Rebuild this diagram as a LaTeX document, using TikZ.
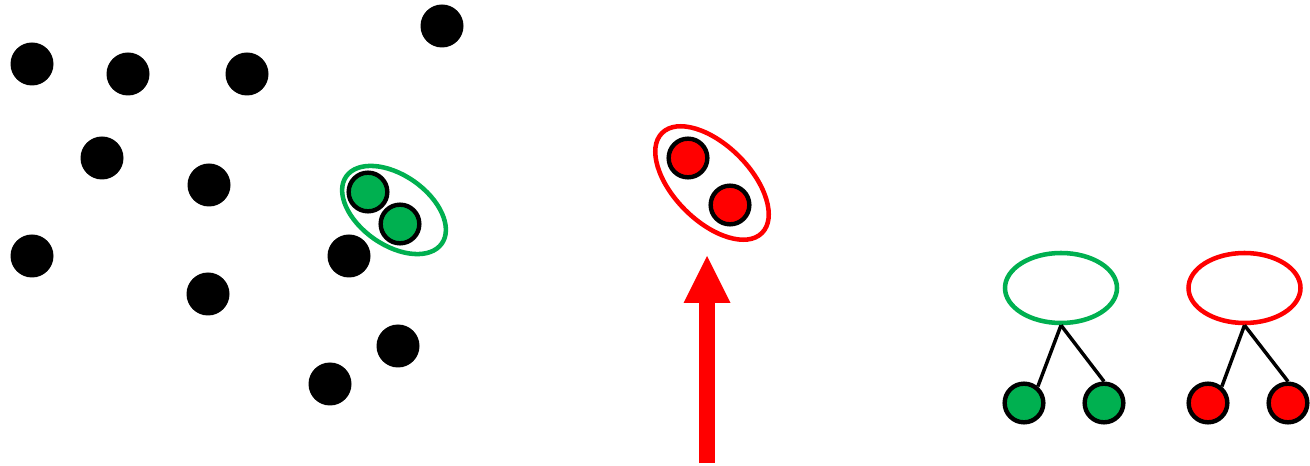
\documentclass[tikz,border=0pt]{standalone}
\usetikzlibrary{shapes.geometric,arrows.meta}
\definecolor{grn}{HTML}{00B050}
\definecolor{rd}{HTML}{FF0000}
\begin{document}
\begin{tikzpicture}[x=0.75pt,y=-0.75pt,
  blackdot/.style={circle,fill=black,inner sep=0pt,minimum size=32.25pt},
  coldot/.style={circle,draw=black,line width=3.3pt,fill=#1,inner sep=0pt,minimum size=29pt},
  ring/.style={ellipse,draw=#1,line width=3.4pt,inner sep=0pt},
  link/.style={line width=2.6pt}]
\useasboundingbox (0,0) rectangle (1310,466);
% cluster ellipses
\node[ring=grn,minimum width=87.6pt,minimum height=52.5pt,rotate=-35] (gc) at (394,210) {};
\node[ring=rd,minimum width=106pt,minimum height=57pt,rotate=-45] (rc) at (712,183) {};
% black dots
\node[blackdot] (b1) at (32,64) {};
\node[blackdot] (b2) at (128,74) {};
\node[blackdot] (b3) at (247,74) {};
\node[blackdot] (b4) at (442,26) {};
\node[blackdot] (b5) at (102,158) {};
\node[blackdot] (b6) at (209,185) {};
\node[blackdot] (b7) at (32,256) {};
\node[blackdot] (b8) at (349,256) {};
\node[blackdot] (b9) at (208,294) {};
\node[blackdot] (b10) at (398,346) {};
\node[blackdot] (b11) at (330,384) {};
% clustered coloured dots
\node[coldot=grn] (g1) at (368,192) {};
\node[coldot=grn] (g2) at (400,224) {};
\node[coldot=rd] (r1) at (688,158) {};
\node[coldot=rd] (r2) at (730,205) {};
% arrow
\coordinate (as) at (707,463);
\coordinate (ae) at (707,256);
\draw[rd,line width=12pt,-{Triangle[length=35.25pt,width=35.25pt,line width=0pt]}] (as) -- (ae);
% trees
\node[ring=grn,minimum width=84pt,minimum height=52.5pt] (ge) at (1061,288) {};
\node[ring=rd,minimum width=84pt,minimum height=52.5pt] (re) at (1244.5,288) {};
\node[coldot=grn] (gl) at (1024,403) {};
\node[coldot=grn] (gr) at (1104,403) {};
\node[coldot=rd] (rl) at (1208,403) {};
\node[coldot=rd] (rr) at (1288,403) {};
\draw[link] (ge.south) -- (gl.50);
\draw[link] (ge.south) -- (gr.90);
\draw[link] (re.south) -- (rl.50);
\draw[link] (re.south) -- (rr.90);
\end{tikzpicture}
\end{document}
